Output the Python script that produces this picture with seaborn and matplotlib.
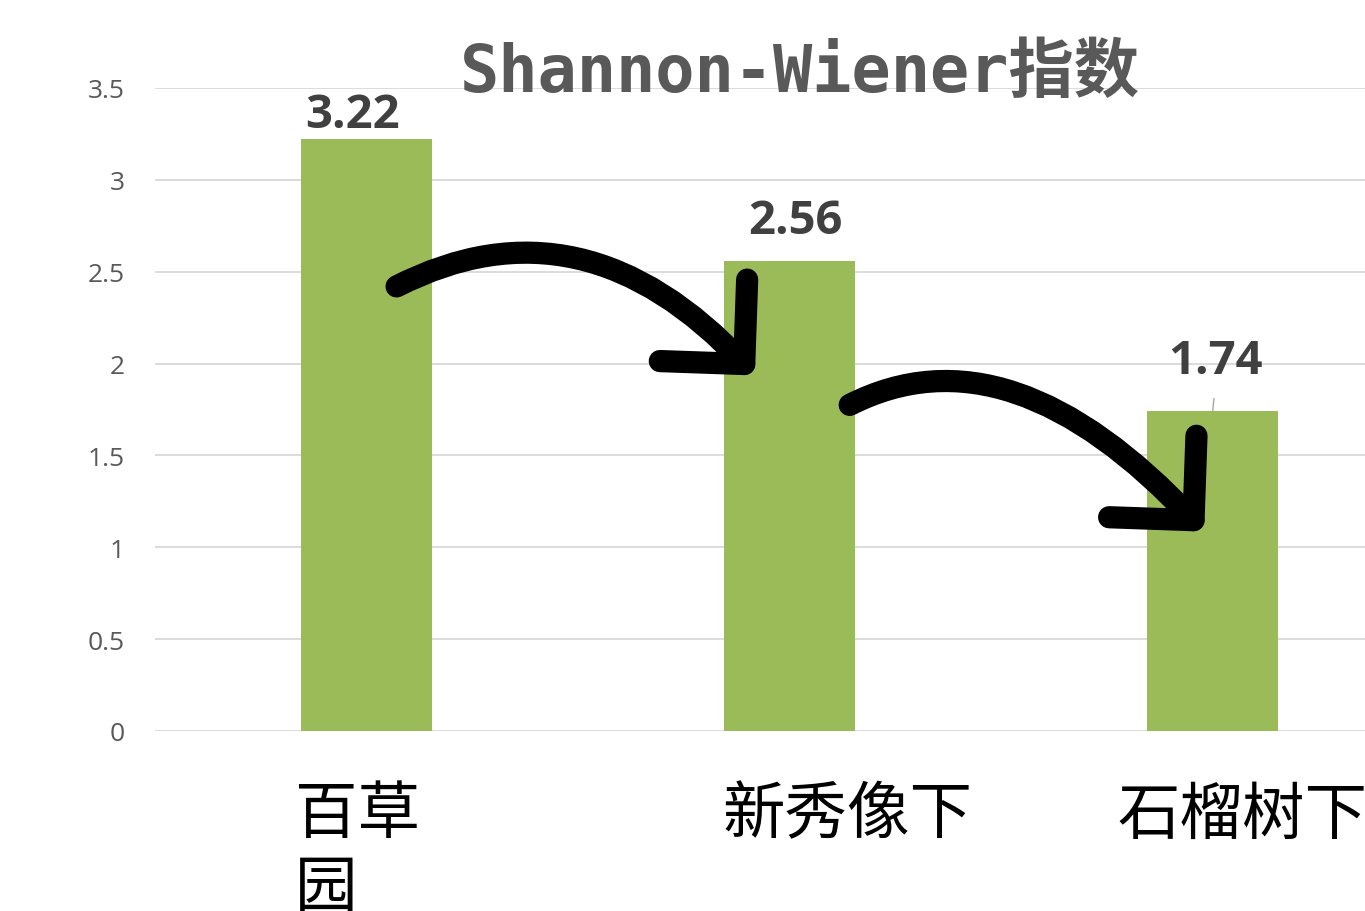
import seaborn as sns
import matplotlib.pyplot as plt
import pandas as pd

# data
sites = ['百草\n园', '新秀像下', '石榴树下']
shannon = [3.22, 2.56, 1.74]
y_ticks = [0, 0.5, 1, 1.5, 2, 2.5, 3, 3.5]

df = pd.DataFrame({'site': sites, 'value': shannon})

sns.set_theme(style='white')
plt.rcParams['font.family'] = ['Noto Sans CJK SC', 'DejaVu Sans']

fig = plt.figure(figsize=(13.65, 9.12), dpi=100)
ax = fig.add_axes([155 / 1365, 180 / 912, 1 - 155 / 1365, 643 / 912])

sns.barplot(data=df, x='site', y='value', color='#9BBB59', saturation=1,
            width=0.31, edgecolor='none', ax=ax)

ax.set_xlim(-0.5, 2.36)
ax.set_ylim(0, 3.5)
ax.set_yticks(y_ticks)
ax.set_yticklabels([f'{t:g}' for t in y_ticks], family='Open Sans',
                   fontsize=19, color='#595959')
ax.tick_params(axis='y', length=0, pad=22)
ax.set_xticks(range(len(sites)))
ax.set_xticklabels([])
ax.tick_params(axis='x', length=0)
ax.set_xlabel('')
ax.set_ylabel('')
ax.yaxis.grid(True, color='#d9d9d9', lw=1.3)
ax.set_axisbelow(True)
for s in ax.spines.values():
    s.set_visible(False)

# category labels under the bars (left aligned text boxes)
label_dx = [-0.17, -0.158, -0.226]
for i, (name, dx) in enumerate(zip(sites, label_dx)):
    ax.text(i + dx, -0.08, name, transform=ax.get_xaxis_transform(),
            ha='left', va='top', fontsize=45, color='black',
            fontweight='light', linespacing=1.2, clip_on=False)

# value labels
value_shift = [(-10, 1), (4, 12), (2, 20)]
for i, (v, (dx, dy)) in enumerate(zip(shannon, value_shift)):
    ax.annotate(f'{v:.2f}', xy=(i, v), xytext=(dx, dy), textcoords='offset points',
                ha='center', va='bottom', fontsize=34, fontweight='bold',
                family='Open Sans', color='#404040')
# small leader line for the last label
ax.annotate('', xy=(2, shannon[2]), xytext=(2.003, shannon[2] + 0.07),
            arrowprops=dict(arrowstyle='-', color='#a6a6a6', lw=1,
                            shrinkA=0, shrinkB=0))

# hand drawn style arrows between bars
arrows = [((0.071, 2.42), (0.918, 1.935)),
          ((1.142, 1.775), (1.98, 1.085))]
for start, end in arrows:
    ax.annotate('', xy=end, xytext=start, xycoords='data', textcoords='data',
                arrowprops=dict(arrowstyle='->, head_length=0.86, head_width=0.86',
                                mutation_scale=50,
                                connectionstyle='angle3,angleA=27,angleB=-47',
                                color='black', lw=16, capstyle='round',
                                joinstyle='round', shrinkA=0, shrinkB=0))

fig.text(800 / 1365, 1 - 74 / 912, 'Shannon-Wiener指数', ha='center', va='center',
         fontsize=47, fontweight='bold', color='#595959',
         family=['DejaVu Sans Mono', 'Noto Sans CJK SC'])

plt.savefig('out.png', dpi=100)
plt.close()
